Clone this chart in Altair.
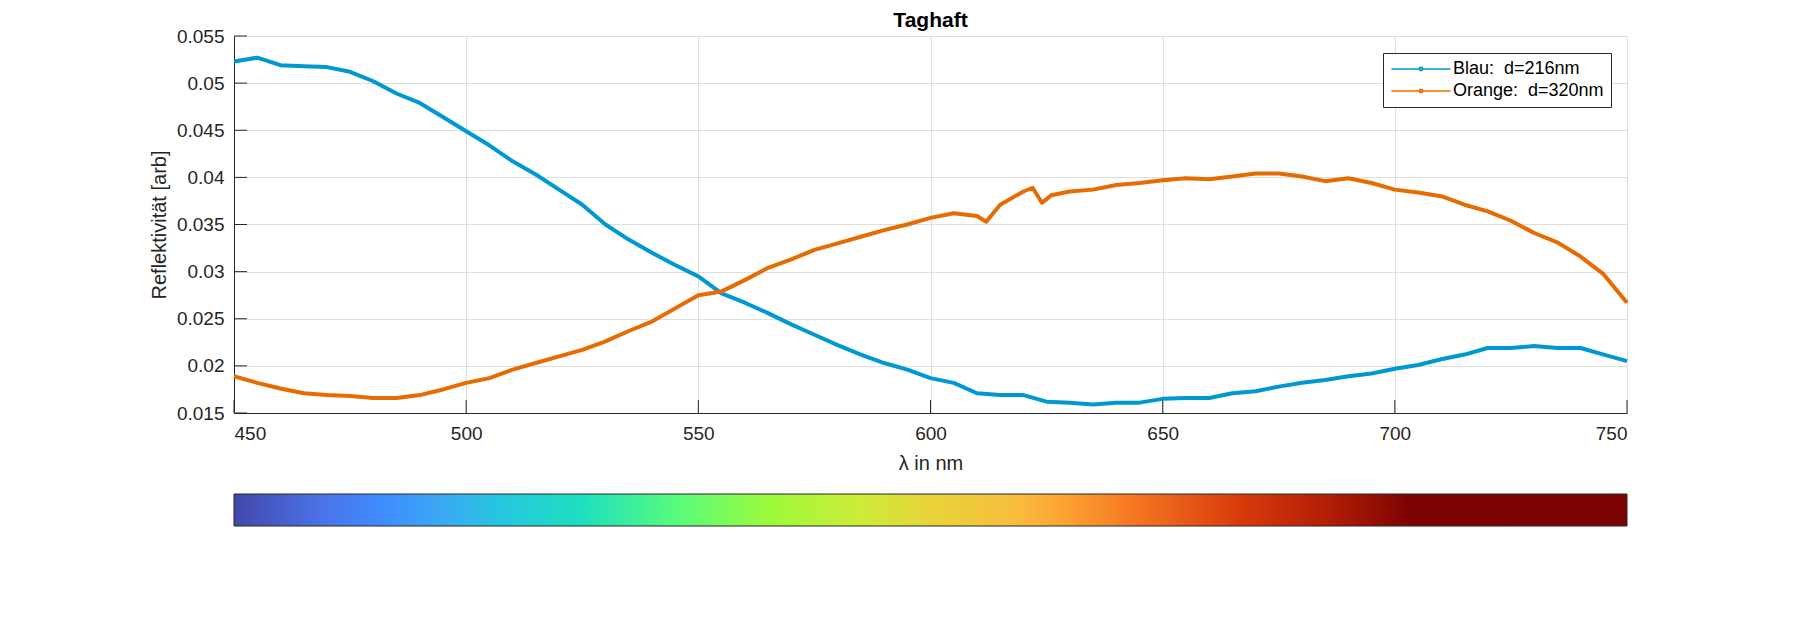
import altair as alt
import pandas as pd

# ---------------- data ----------------
wl_blue = [450, 455, 460, 465, 470, 475, 480, 485, 490, 495, 500, 505, 510, 515, 520,
           525, 530, 535, 540, 545, 550, 555, 560, 565, 570, 575, 580, 585, 590, 595,
           600, 605, 610, 615, 620, 625, 630, 635, 640, 645, 650, 655, 660, 665, 670,
           675, 680, 685, 690, 695, 700, 705, 710, 715, 720, 725, 730, 735, 740, 745, 750]
refl_blue = [0.0523, 0.0527, 0.0519, 0.0518, 0.0517, 0.0512, 0.0502, 0.0489, 0.0479, 0.0464,
             0.0449, 0.0434, 0.0417, 0.0403, 0.0387, 0.0371, 0.0350, 0.0334, 0.0320, 0.0307,
             0.0295, 0.0277, 0.0267, 0.0256, 0.0244, 0.0233, 0.0222, 0.0212, 0.0203, 0.0196,
             0.0187, 0.0182, 0.0171, 0.0169, 0.0169, 0.0162, 0.0161, 0.0159, 0.0161, 0.0161,
             0.0165, 0.0166, 0.0166, 0.0171, 0.0173, 0.0178, 0.0182, 0.0185, 0.0189, 0.0192,
             0.0197, 0.0201, 0.0207, 0.0212, 0.0219, 0.0219, 0.0221, 0.0219, 0.0219, 0.0212,
             0.0205]

wl_orange = [450, 455, 460, 465, 470, 475, 480, 485, 490, 495, 500, 505, 510, 515, 520,
             525, 530, 535, 540, 545, 550, 555, 560, 565, 570, 575, 580, 585, 590, 595,
             600, 605, 610, 612, 615, 620, 622, 624, 626, 630, 635, 640, 645, 650, 655,
             660, 665, 670, 675, 680, 685, 690, 695, 700, 705, 710, 715, 720, 725, 730,
             735, 740, 745, 750]
refl_orange = [0.0189, 0.0182, 0.0176, 0.0171, 0.0169, 0.0168, 0.0166, 0.0166, 0.0169, 0.0175,
               0.0182, 0.0187, 0.0196, 0.0203, 0.0210, 0.0217, 0.0226, 0.0237, 0.0247, 0.0261,
               0.0275, 0.0279, 0.0291, 0.0304, 0.0313, 0.0323, 0.0330, 0.0337, 0.0344, 0.0350,
               0.0357, 0.0362, 0.0359, 0.0353, 0.0371, 0.0385, 0.0389, 0.0373, 0.0381, 0.0385,
               0.0387, 0.0392, 0.0394, 0.0397, 0.0399, 0.0398, 0.0401, 0.0404, 0.0404, 0.0401,
               0.0396, 0.0399, 0.0394, 0.0387, 0.0384, 0.0380, 0.0371, 0.0364, 0.0354, 0.0341,
               0.0331, 0.0316, 0.0297, 0.0267]

series_names = ["Blau:\u00a0 d=216nm", "Orange:\u00a0 d=320nm"]
series_colors = ["#0098D2", "#E66B00"]

x_ticks = [450, 500, 550, 600, 650, 700, 750]
y_ticks = [0.015, 0.02, 0.025, 0.03, 0.035, 0.04, 0.045, 0.05, 0.055]

cb_offsets = [0.0, 0.064, 0.106, 0.148, 0.193, 0.25, 0.32, 0.386, 0.45, 0.5,
              0.563, 0.595, 0.643, 0.723, 0.787, 0.844, 1.0]
cb_colors = ["#4347AA", "#4A74E8", "#3F8CFF", "#3BA8F5", "#25C8E0", "#1DE0BE", "#5AFC7A",
             "#9EFA3A", "#CEEB38", "#E8D43A", "#F8BC3D", "#FCA332", "#F67A22", "#D83A0A",
             "#B01E05", "#7D0303", "#7B0202"]

# ---------------- chart ----------------
FONT = "Liberation Sans"
W, H = 1393, 377

df = pd.DataFrame({
    "wl": wl_blue + wl_orange,
    "r": refl_blue + refl_orange,
    "series": [series_names[0]] * len(wl_blue) + [series_names[1]] * len(wl_orange),
})

x_scale = alt.Scale(domain=[450, 750], nice=False, zero=False)
y_scale = alt.Scale(domain=[0.015, 0.055], nice=False, zero=False)

x_axis = alt.Axis(values=x_ticks, format="d", title="λ in nm",
                  ticks=False, tickSize=0, labelPadding=11, titlePadding=10,
                  labelFontSize=19, titleFontSize=20, labelFont=FONT, titleFont=FONT,
                  labelColor="#262626", titleColor="#262626", titleFontWeight="normal",
                  domainColor="#262626", gridColor="#DFDFDF", grid=True)
y_axis = alt.Axis(values=y_ticks, format=".3~f", title="Reflektivität [arb]",
                  ticks=False, tickSize=0, labelPadding=10, titlePadding=7,
                  labelFontSize=19, titleFontSize=20, labelFont=FONT, titleFont=FONT,
                  labelColor="#262626", titleColor="#262626", titleFontWeight="normal",
                  domainColor="#262626", gridColor="#DFDFDF", grid=True)

# legend symbol: a line with a small dot in the middle (path spans beyond the unit box)
legend_path = "M-4,0H4M-0.25,0a0.25,0.25 0 1,0 0.5,0a0.25,0.25 0 1,0 -0.5,0"

lines = alt.Chart(df).mark_line(strokeWidth=4, strokeJoin="round").encode(
    x=alt.X("wl:Q", scale=x_scale, axis=x_axis),
    y=alt.Y("r:Q", scale=y_scale, axis=y_axis),
    color=alt.Color("series:N",
                    scale=alt.Scale(domain=series_names, range=series_colors),
                    legend=alt.Legend(orient="none", legendX=1149, legendY=17, title=None,
                                      symbolType=legend_path, symbolSize=218,
                                      symbolOffset=22, symbolStrokeWidth=1.3,
                                      labelFont=FONT, labelFontSize=18,
                                      labelColor="black", padding=7, rowPadding=4,
                                      labelOffset=23, strokeColor="#262626",
                                      fillColor="white", cornerRadius=0)),
    order=alt.Order("wl:Q"),
)

xtick_marks = alt.Chart(pd.DataFrame({"wl": x_ticks})).mark_rule(
    color="#262626", strokeWidth=1).encode(
    x=alt.X("wl:Q", scale=x_scale, axis=x_axis), y=alt.value(H), y2=alt.value(H - 13))

ytick_marks = alt.Chart(pd.DataFrame({"r": y_ticks})).mark_rule(
    color="#262626", strokeWidth=1).encode(
    y=alt.Y("r:Q", scale=y_scale, axis=y_axis), x=alt.value(0), x2=alt.value(13))

gradient = alt.LinearGradient(
    gradient="linear",
    stops=[alt.GradientStop(offset=o, color=c) for o, c in zip(cb_offsets, cb_colors)],
    x1=0, x2=1, y1=0, y2=0)

colorbar = alt.Chart(pd.DataFrame({"cb": [0]})).mark_rect(
    fill=gradient, stroke="#262626", strokeWidth=1).encode(
    x=alt.value(0), x2=alt.value(W), y=alt.value(458), y2=alt.value(490))

chart = alt.layer(xtick_marks, ytick_marks, lines, colorbar).properties(
    width=W, height=H,
    background="white",
    title=alt.TitleParams("Taghaft", font=FONT, fontSize=21, fontWeight="bold",
                          color="black", anchor="middle", frame="group", offset=-4),
    autosize=alt.AutoSizeParams(type="none"),
    padding={"left": 226, "top": 28, "right": 155, "bottom": 201},
).configure_view(stroke=None)

chart.save("out.html", embed_options={"renderer": "svg", "actions": False})
